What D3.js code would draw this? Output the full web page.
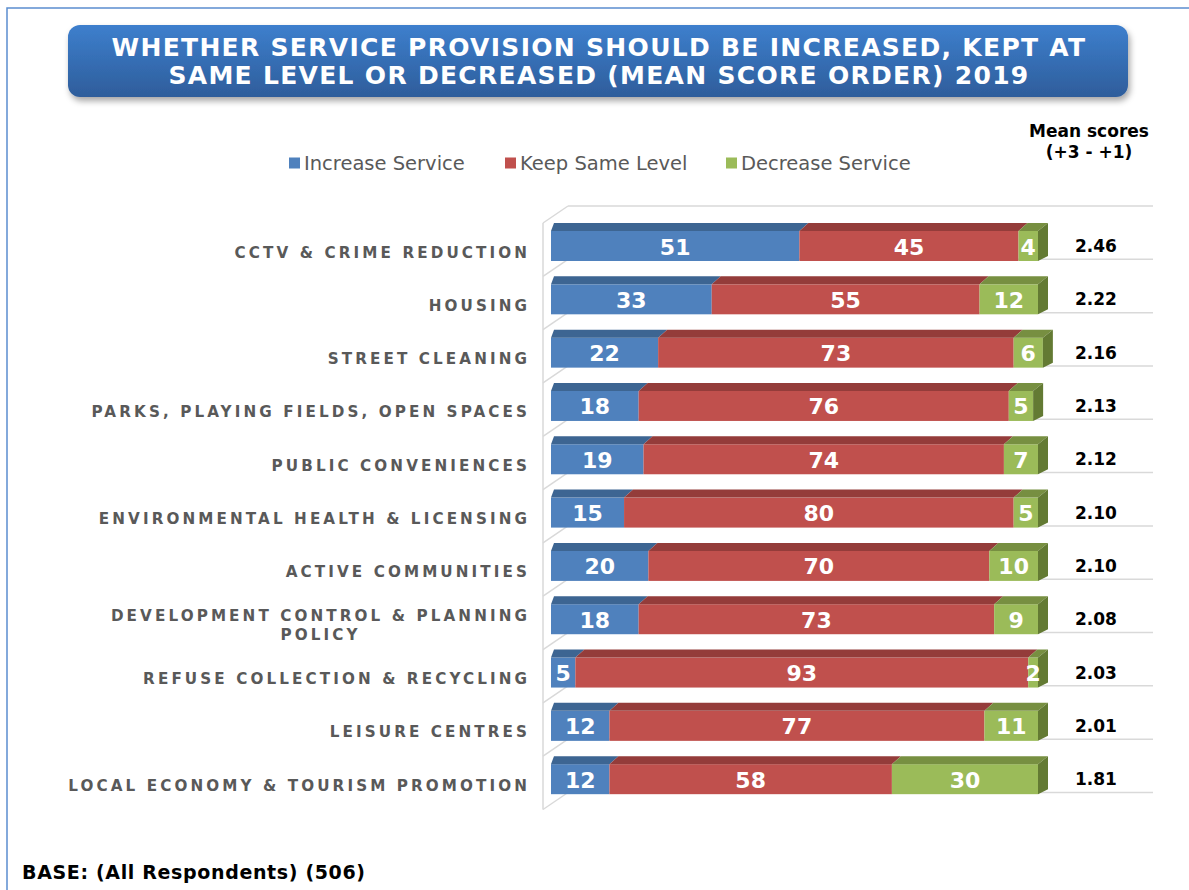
<!DOCTYPE html>
<html>
<head>
<meta charset="utf-8">
<script src="https://cdn.jsdelivr.net/npm/d3@7/dist/d3.min.js"></script>
<style>
  body { margin: 0; background: #ffffff; }
  svg { display: block; }
</style>
</head>
<body>
<svg id="chart" width="1189" height="890"></svg>
<script>
// Survey results: share of respondents per service, in mean score order
const categories = [
  "CCTV & CRIME REDUCTION",
  "HOUSING",
  "STREET CLEANING",
  "PARKS, PLAYING FIELDS, OPEN SPACES",
  "PUBLIC CONVENIENCES",
  "ENVIRONMENTAL HEALTH & LICENSING",
  "ACTIVE COMMUNITIES",
  "DEVELOPMENT CONTROL & PLANNING\nPOLICY",
  "REFUSE COLLECTION & RECYCLING",
  "LEISURE CENTRES",
  "LOCAL ECONOMY & TOURISM PROMOTION"
];
const increaseService = [51, 33, 22, 18, 19, 15, 20, 18, 5, 12, 12];
const keepSameLevel   = [45, 55, 73, 76, 74, 80, 70, 73, 93, 77, 58];
const decreaseService = [4, 12, 6, 5, 7, 5, 10, 9, 2, 11, 30];
const meanScores = ["2.46", "2.22", "2.16", "2.13", "2.12", "2.10", "2.10", "2.08", "2.03", "2.01", "1.81"];
const seriesNames = ["Increase Service", "Keep Same Level", "Decrease Service"];
const titleLines = [
  "WHETHER SERVICE PROVISION SHOULD BE INCREASED, KEPT AT",
  "SAME LEVEL OR DECREASED (MEAN SCORE ORDER) 2019"
];
const meanHeader = ["Mean scores", "(+3 - +1)"];
const baseNote = "BASE: (All Respondents) (506)";

// Face colours per series: front, top, side
const palette = [
  { front: "#4f81bd", top: "#3d6592", side: "#34587f" },
  { front: "#c0504d", top: "#943c3a", side: "#7f3331" },
  { front: "#9bbb59", top: "#778f41", side: "#637a33" }
];

const rows = categories.map((c, i) => ({
  category: c,
  [seriesNames[0]]: increaseService[i],
  [seriesNames[1]]: keepSameLevel[i],
  [seriesNames[2]]: decreaseService[i],
  mean: meanScores[i]
}));

const svg = d3.select("#chart");
const FONT = "'DejaVu Sans', Verdana, sans-serif";

// Outer frame
svg.append("rect")
  .attr("x", 7).attr("y", 8).attr("width", 1250).attr("height", 950)
  .attr("fill", "none").attr("stroke", "#5b8dcf").attr("stroke-width", 1.5);

// Title banner
const defs = svg.append("defs");
const grad = defs.append("linearGradient").attr("id", "titleGrad")
  .attr("x1", 0).attr("y1", 0).attr("x2", 0).attr("y2", 1);
grad.append("stop").attr("offset", "0%").attr("stop-color", "#3d7fcd");
grad.append("stop").attr("offset", "100%").attr("stop-color", "#2e5d9b");
const shadow = defs.append("filter").attr("id", "titleShadow")
  .attr("x", "-5%").attr("y", "-20%").attr("width", "110%").attr("height", "160%");
shadow.append("feDropShadow").attr("dx", 2).attr("dy", 4).attr("stdDeviation", 3)
  .attr("flood-color", "#000").attr("flood-opacity", 0.35);

svg.append("rect")
  .attr("x", 68).attr("y", 25).attr("width", 1060).attr("height", 72)
  .attr("rx", 12).attr("ry", 12)
  .attr("fill", "url(#titleGrad)").attr("filter", "url(#titleShadow)");

svg.append("g").selectAll("text").data(titleLines).join("text")
  .attr("x", 599).attr("y", (d, i) => 55.5 + i * 28.5)
  .attr("text-anchor", "middle")
  .attr("font-family", FONT).attr("font-weight", "bold")
  .attr("font-size", 25).attr("letter-spacing", 1.3)
  .attr("fill", "#ffffff")
  .text(d => d);

// Legend
const legendX = [289, 505, 726];
const legend = svg.append("g").selectAll("g").data(seriesNames).join("g")
  .attr("transform", (d, i) => `translate(${legendX[i]},163)`);
legend.append("rect")
  .attr("x", 0).attr("y", -5.5).attr("width", 11).attr("height", 11)
  .attr("fill", (d, i) => palette[i].front);
legend.append("text")
  .attr("x", 15).attr("y", 7)
  .attr("font-family", FONT).attr("font-size", 19.5)
  .attr("fill", "#595959")
  .text(d => d);

// Mean score header
svg.append("g").selectAll("text").data(meanHeader).join("text")
  .attr("x", 1089).attr("y", (d, i) => 137 + i * 21)
  .attr("text-anchor", "middle")
  .attr("font-family", FONT).attr("font-weight", "bold").attr("font-size", 17)
  .attr("fill", "#000")
  .text(d => d);

// Scales for the front plane of the plot
const x = d3.scaleLinear().domain([0, 100]).range([551, 1038]);
const y = d3.scaleBand().domain(categories).range([223, 809.5]).padding(0);
const step = y.step();

// 3D box: back wall and left wall offsets
const wallDX = 25, wallDY = -17;
const leftX = 543;
const backRight = 1153;
const grid = svg.append("g").attr("stroke", "#d9d9d9").attr("stroke-width", 1.5).attr("fill", "none");
const boundaries = d3.range(categories.length + 1).map(i => y.range()[0] + i * step);

grid.selectAll("line.back").data(boundaries).join("line").attr("class", "back")
  .attr("x1", leftX + wallDX).attr("x2", backRight)
  .attr("y1", d => d + wallDY).attr("y2", d => d + wallDY);
grid.selectAll("line.side").data(boundaries).join("line").attr("class", "side")
  .attr("x1", leftX).attr("x2", leftX + wallDX)
  .attr("y1", d => d).attr("y2", d => d + wallDY);
grid.append("line")
  .attr("x1", leftX).attr("x2", leftX)
  .attr("y1", boundaries[0]).attr("y2", boundaries[boundaries.length - 1]);

// Stacked 3D bars
const stack = d3.stack().keys(seriesNames);
const series = stack(rows);
const barOffset = 8, barH = 30, depthX = 9, depthY = 8;

const bars = svg.append("g");
rows.forEach((row, r) => {
  const yt = y(row.category) + barOffset;
  series.forEach((s, k) => {
    const [v0, v1] = s[r];
    const X0 = x(v0), X1 = x(v1);
    const last = k === series.length - 1;
    const g = bars.append("g");
    // front face
    g.append("rect")
      .attr("x", X0).attr("y", yt).attr("width", X1 - X0).attr("height", barH)
      .attr("fill", palette[k].front);
    // top face
    const backL = X0 + (k === 0 ? 3 : depthX);
    const backR = X1 + (last ? depthX + 1 : depthX);
    g.append("polygon")
      .attr("points", [[X0, yt], [X1, yt], [backR, yt - depthY], [backL, yt - depthY]].join(" "))
      .attr("fill", palette[k].top);
    // right side face on the outer segment
    if (last) {
      g.append("polygon")
        .attr("points", [[X1, yt], [backR, yt - depthY], [backR, yt + barH - 5], [X1, yt + barH]].join(" "))
        .attr("fill", palette[k].side);
    }
    // value label
    g.append("text")
      .attr("x", (X0 + X1) / 2).attr("y", yt + 23.5)
      .attr("text-anchor", "middle")
      .attr("font-family", FONT).attr("font-weight", "bold").attr("font-size", 22)
      .attr("fill", "#ffffff")
      .text(v1 - v0);
  });
});

// Category labels (right aligned block, wrapped lines centred in the block)
const labelRight = 527;
const ls = 3.1;
const labels = svg.append("g");
categories.forEach(cat => {
  const lines = cat.split("\n");
  const g = labels.append("g");
  const texts = lines.map((ln, j) => g.append("text")
    .attr("font-family", FONT).attr("font-weight", "bold").attr("font-size", 15.2)
    .attr("letter-spacing", ls).attr("fill", "#595959")
    .attr("y", y(cat) + 34.5 - (lines.length - 1) * 9.5 + j * 19)
    .text(ln));
  const widths = texts.map(t => t.node().getComputedTextLength() - ls);
  const maxW = d3.max(widths);
  texts.forEach((t, j) => t.attr("x", labelRight - maxW / 2 - widths[j] / 2));
});

// Mean score values
svg.append("g").selectAll("text").data(rows).join("text")
  .attr("x", 1075).attr("y", d => y(d.category) + barOffset + 21)
  .attr("font-family", FONT).attr("font-weight", "bold").attr("font-size", 17)
  .attr("fill", "#000")
  .text(d => d.mean);

// Base note
svg.append("text")
  .attr("x", 22).attr("y", 879)
  .attr("font-family", FONT).attr("font-weight", "bold").attr("font-size", 19)
  .attr("letter-spacing", 0.65)
  .attr("fill", "#000")
  .text(baseNote);
</script>
</body>
</html>
